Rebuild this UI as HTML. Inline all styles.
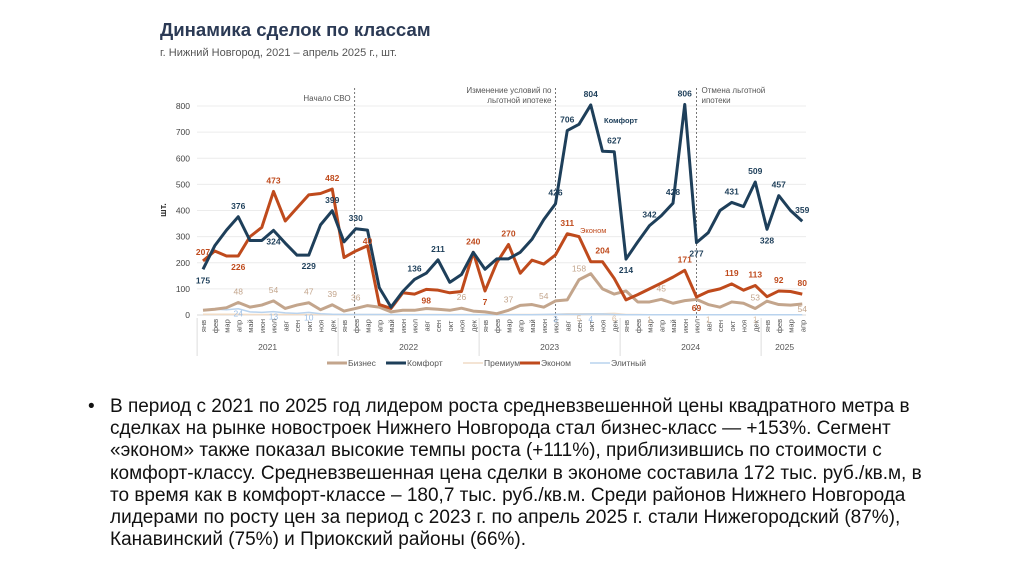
<!DOCTYPE html>
<html><head><meta charset="utf-8">
<style>
body{margin:0;background:#fff;}
#wrap{position:relative;width:1024px;height:574px;overflow:hidden;background:#fff;}
.t{position:absolute;left:110px;font-family:"Liberation Sans",sans-serif;font-size:19px;color:#111;white-space:nowrap;letter-spacing:0;}
</style></head><body>
<div id="wrap">
<svg id="chart" width="1024" height="390" style="position:absolute;left:0;top:0" font-family="Liberation Sans, sans-serif">
<text x="160" y="36" font-size="18.6" font-weight="bold" fill="#2b3a55">Динамика сделок по классам</text>
<text x="160" y="56" font-size="11" fill="#555">г. Нижний Новгород, 2021 – апрель 2025 г., шт.</text>
<text x="166" y="210" font-size="9" font-weight="bold" fill="#333" transform="rotate(-90 166 210)" text-anchor="middle">шт.</text>
<g id="grid"></g><g id="xaxis"></g><g id="events"></g><g id="lines"></g><g id="labels"></g><g id="legend"></g>
</svg>
<div class="t" style="top:396px"><span style="position:absolute;left:-22px">•</span>В период с 2021 по 2025 год лидером роста средневзвешенной цены квадратного метра в</div>
<div class="t" style="top:418px">сделках на рынке новостроек Нижнего Новгорода стал бизнес-класс — +153%. Сегмент</div>
<div class="t" style="top:440px">«эконом» также показал высокие темпы роста (+111%), приблизившись по стоимости с</div>
<div class="t" style="top:463px">комфорт-классу. Средневзвешенная цена сделки в экономе составила 172 тыс. руб./кв.м, в</div>
<div class="t" style="top:485px">то время как в комфорт-классе – 180,7 тыс. руб./кв.м. Среди районов Нижнего Новгорода</div>
<div class="t" style="top:507px">лидерами по росту цен за период с 2023 г. по апрель 2025 г. стали Нижегородский (87%),</div>
<div class="t" style="top:529px">Канавинский (75%) и Приокский районы (66%).</div>
</div>
<script>
const months=["янв","фев","мар","апр","май","июн","июл","авг","сен","окт","ноя","дек"];
const years=["2021","2022","2023","2024","2025"];
const yTicks=[0,100,200,300,400,500,600,700,800];
const komfort=[175,265,325,376,285,285,324,275,229,229,345,399, 280,330,325,105,30,90,136,160,211,125,155,240, 175,215,215,240,290,365,426,706,730,804,627,625, 214,280,342,380,428,806,277,315,400,431,415,509, 328,457,400,359];
const ekonom=[207,245,226,226,300,335,473,360,410,460,465,482, 220,245,265,40,25,85,80,98,95,85,90,240, 92,200,270,160,210,195,230,311,300,204,204,140, 58,78,100,122,145,171,69,90,100,119,95,113, 70,92,90,80];
const biznes=[18,22,28,48,30,38,54,25,38,47,20,39, 15,25,36,30,12,18,18,25,22,18,26,15, 12,5,18,37,40,30,54,58,135,158,100,80, 92,50,50,60,45,55,60,40,30,50,45,25, 53,40,38,42,54].slice(0,52);
const premium=[3,3,3,3,2,2,2,2,2,2,2,2, 2,2,2,2,2,2,2,2,2,2,2,2, 2,2,2,2,2,2,3,5,5,5,5,6, 2,2,1,1,1,1,1,1,1,1,1,1, 1,1,1,1];
const elite=[20,22,20,24,12,10,13,8,6,10,5,3, 2,2,2,2,2,1,1,1,1,1,1,1, 1,1,1,1,1,2,3,3,3,4,4,2, 1,1,1,1,1,1,1,1,1,1,1,1, 1,1,1,1];
const labels=[["k",0,"175",14],["k",3,"376",-8],["k",6,"324",14],["k",9,"229",14],["k",11,"399",-8],["k",13,"330",-8],["k",18,"136",-8],["k",20,"211",-8],["k",30,"426",-8],["k",31,"706",-8],["k",33,"804",-8],["k",35,"627",-8],["k",36,"214",14],["k",38,"342",-8],["k",40,"428",-8],["k",41,"806",-8],["k",42,"277",14],["k",45,"431",-8],["k",47,"509",-8],["k",48,"328",14],["k",49,"457",-8],["k",51,"359",-8],
["e",0,"207",-6],["e",3,"226",14],["e",6,"473",-8],["e",11,"482",-8],["e",14,"40",-2],["e",19,"98",14],["e",23,"240",-8],["e",24,"7",14],["e",26,"270",-8],["e",31,"311",-8],["e",34,"204",-8],["e",41,"171",-8],["e",42,"69",14],["e",45,"119",-8],["e",47,"113",-8],["e",49,"92",-8],["e",51,"80",-8],
["b",3,"48",-8],["b",6,"54",-8],["b",9,"47",-8],["b",11,"39",-8],["b",13,"36",-8],["b",22,"26",-8],["b",26,"37",-8],["b",29,"54",-8],["b",32,"158",-8],["b",39,"45",-8],["b",47,"53",-8],["b",51,"54",8],
["l",3,"24",8],["l",6,"13",8],["l",9,"10",8],["l",30,"3",8],["l",33,"4",8],["p",32,"5",8],["p",35,"6",8],["p",38,"1",8],["p",43,"1",8],["p",47,"1",8]];
const X0=203,STEP=11.75,Y0=315,YK=209/800;
const xs=i=>X0+i*STEP, ys=v=>Y0-v*YK;
const NS="http://www.w3.org/2000/svg";
function mk(tag,attrs,parent,txt){const e=document.createElementNS(NS,tag);for(const k in attrs)e.setAttribute(k,attrs[k]);if(txt!==undefined)e.textContent=txt;document.getElementById(parent).appendChild(e);return e;}
yTicks.forEach(t=>{
 const g=mk("line",{x1:197,x2:806,y1:ys(t),y2:ys(t),stroke:t?"#ececec":"#d8d8d8","stroke-width":1},"grid");
 
 
 const l=mk("text",{x:190,y:ys(t)+3,"font-size":8.5,fill:"#444","text-anchor":"end"},"grid",String(t));
 
 
});
for(let i=0;i<52;i++){
 const x=xs(i);
 const m=mk("text",{x:x+3,y:326,"font-size":7.5,fill:"#555","text-anchor":"middle",transform:`rotate(-90 ${x+3} 326)`},"xaxis",months[i%12]);
 
 
}
years.forEach((y,j)=>{
 const start=xs(j*12)-STEP/2, end=xs(Math.min(j*12+11,51))+STEP/2;
 const s=mk("line",{x1:start,x2:start,y1:318,y2:356,stroke:"#ddd"},"xaxis");
 
 
 const t=mk("text",{x:(start+end)/2,y:350,"font-size":8.5,fill:"#555","text-anchor":"middle"},"xaxis",y);
 
 
});
const ev=[[12.9,"Начало СВО",null,"end"],[30,"Изменение условий по","льготной ипотеке","end"],[42,"Отмена льготной","ипотеки","start"]];
ev.forEach(e=>{
 const x=xs(e[0]);
 const l=mk("line",{x1:x,x2:x,y1:88,y2:318,stroke:"#777","stroke-dasharray":"2,2","stroke-width":1},"events");
 
 
 const dx=e[3]==="end"?-4:5;
 const a=mk("text",{x:x+dx,y:e[2]?93:101,"font-size":8,fill:"#555","text-anchor":e[3]},"events",e[1]);
 
 
 if(e[2]){const b=mk("text",{x:x+dx,y:103,"font-size":8,fill:"#555","text-anchor":e[3]},"events",e[2]);
 
 }
});
const series={p:[premium,"#f1dcc6",1.5],l:[elite,"#b9d3ee",1.5],b:[biznes,"#c3a58c",3],e:[ekonom,"#bf4a1c",3],k:[komfort,"#1e3f5a",3]};
const sn={p:"premium",l:"elite",b:"biznes",e:"ekonom",k:"komfort"};
["p","l","b","e","k"].forEach(k=>{
 const [d,c,w]=series[k];
 const p=mk("polyline",{points:d.map((v,i)=>xs(i)+","+ys(v)).join(" "),fill:"none",stroke:c,"stroke-width":w,"stroke-linejoin":"round"},"lines");
 
 
});
const lc={k:"#1e3f5a",e:"#bf4a1c",b:"#c3a58c",p:"#d9c0a8",l:"#9fc0e6"};
labels.forEach(([k,i,t,dy])=>{
 const v=series[k][0][i];
 const bold=(k==="k"||k==="e");
 const e=mk("text",{x:xs(i),y:ys(v)+dy,"font-size":8.5,"font-weight":bold?"bold":"normal",fill:lc[k],"text-anchor":"middle"},"labels",t);
 
 
});
const n1=mk("text",{x:604,y:123,"font-size":7.5,"font-weight":"bold",fill:"#1e3f5a"},"labels","Комфорт");


const n2=mk("text",{x:580,y:233,"font-size":7.5,fill:"#bf4a1c"},"labels","Эконом");


const leg=[["Бизнес","#c3a58c",3,327],["Комфорт","#1e3f5a",3,386],["Премиум","#f1dcc6",1.5,463],["Эконом","#bf4a1c",3,520],["Элитный","#b9d3ee",1.5,590]];
leg.forEach(([n,c,w,x])=>{
 const l=mk("line",{x1:x,x2:x+20,y1:363,y2:363,stroke:c,"stroke-width":w},"legend");
 
 
 const t=mk("text",{x:x+21,y:366,"font-size":8.5,fill:"#555"},"legend",n);
 
 
});
</script>
</body></html>
